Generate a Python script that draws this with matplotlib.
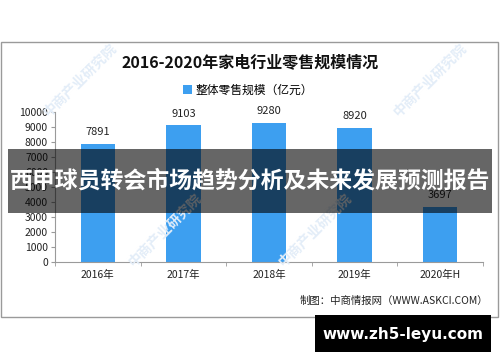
import matplotlib
matplotlib.use("Agg")
import matplotlib.pyplot as plt
from matplotlib.patches import Rectangle

plt.rcParams["font.family"] = ["Noto Sans CJK SC", "DejaVu Sans"]

years = ["2016年", "2017年", "2018年", "2019年", "2020年H"]
retail_scale = [7891, 9103, 9280, 8920, 3697]
yticks = [0, 1000, 2000, 3000, 4000, 5000, 6000, 7000, 8000, 9000, 10000]

title = "2016-2020年家电行业零售规模情况"
legend_label = "整体零售规模（亿元）"
source = "制图：中商情报网（WWW.ASKCI.COM）"
banner = "西甲球员转会市场趋势分析及未来发展预测报告"
site = "www.zh5-leyu.com"
watermark = "中商产业研究院"

BLUE = "#3d9ff0"
W, H = 500, 362

fig = plt.figure(figsize=(5, 3.62), dpi=100)


def fx(px):
    return px / W


def fy(py):
    return 1 - py / H


# chart frame
fig.patches.append(Rectangle((fx(1), fy(317)), fx(497), 275 / H, transform=fig.transFigure,
                             fill=False, edgecolor="#9a9a9a", linewidth=1, zorder=0))

# faint watermarks (kept clear of the chart texts)
for wx, wy in [(80, 80), (430, 80), (165, 230), (315, 230)]:
    fig.text(fx(wx), fy(wy), watermark, rotation=45, ha="center", va="center",
             color="#e3edf8", fontsize=10, fontweight="bold", zorder=0)

ax = fig.add_axes([fx(55), fy(262), fx(428), 150 / H])
x = range(len(years))
bars = ax.bar(x, retail_scale, width=0.4, color=BLUE, label=legend_label, zorder=2)
for xi, v in zip(x, retail_scale):
    ax.annotate(str(v), (xi, v), xytext=(0, 5), textcoords="offset points",
                ha="center", va="bottom", fontsize=8, color="#222222", annotation_clip=False)

ax.set_xlim(-0.5, len(years) - 0.5)
ax.set_ylim(0, 10000)
ax.set_yticks(yticks)
ax.set_yticklabels([str(t) for t in yticks], fontsize=7.5, color="#222222")
ax.set_xticks(list(x))
ax.set_xticklabels(years, fontsize=7.5, color="#222222")
ax.set_xticks([i - 0.5 for i in range(len(years) + 1)], minor=True)
ax.tick_params(axis="x", which="major", length=0, pad=6)
ax.tick_params(axis="x", which="minor", length=3, color="#9a9a9a")
ax.tick_params(axis="y", length=3, color="#9a9a9a", pad=2)
for side in ["top", "right"]:
    ax.spines[side].set_visible(False)
for side in ["left", "bottom"]:
    ax.spines[side].set_color("#9a9a9a")
ax.patch.set_alpha(0)

fig.text(0.5, fy(62), title, ha="center", va="center", fontsize=11.5, fontweight="bold", color="#111111")
fig.legend(handles=[bars], labels=[legend_label], loc="center", bbox_to_anchor=(0.496, fy(90)),
           frameon=False, fontsize=8.5, handlelength=0.8, handleheight=0.8, handletextpad=0.3)
fig.text(fx(488), fy(301), source, ha="right", va="center", fontsize=7.5, color="#222222")

# overlay banner
fig.patches.append(Rectangle((fx(8), fy(213)), fx(484), 64 / H, transform=fig.transFigure,
                             facecolor="black", alpha=0.6, edgecolor="none", zorder=5))
fig.text(0.5, fy(181), banner, ha="center", va="center", fontsize=16.5, fontweight="bold",
         color="white", zorder=6)

# site box
fig.patches.append(Rectangle((fx(315), fy(352)), fx(176), 37 / H, transform=fig.transFigure,
                             facecolor="black", edgecolor="none", zorder=5))
fig.text(fx(403), fy(334), site, ha="center", va="center", fontsize=11, fontweight="bold",
         color="white", family="DejaVu Sans", zorder=6)

fig.savefig("out.png", dpi=100)
